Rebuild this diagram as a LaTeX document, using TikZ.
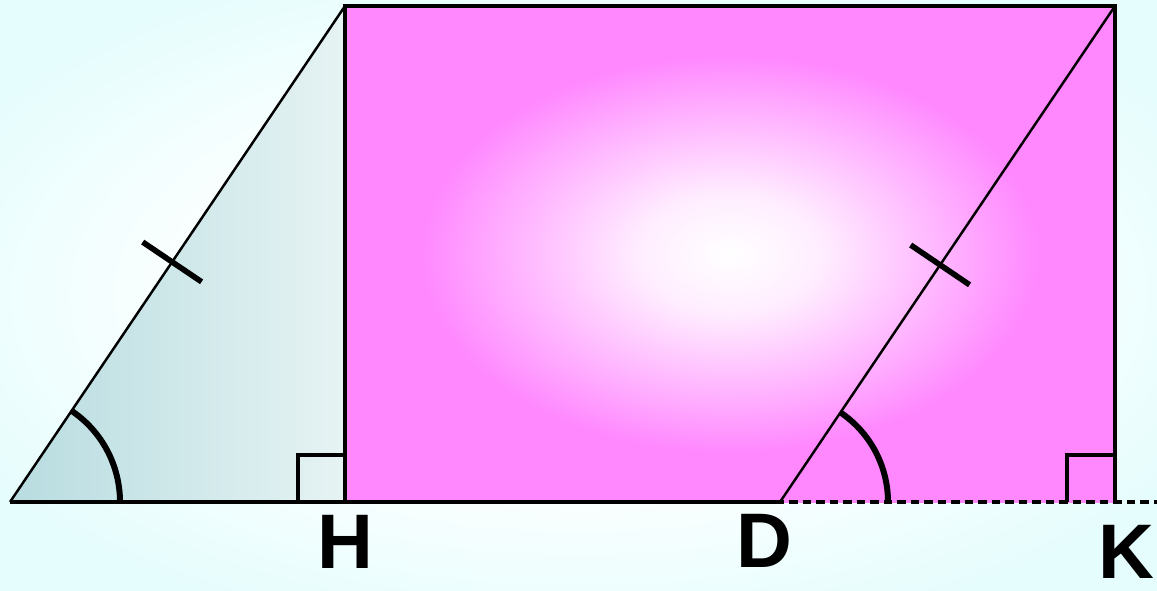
\documentclass[tikz,border=0pt]{standalone}
\usepackage{fontspec}
\setmainfont{Liberation Sans}
\usetikzlibrary{calc}
\definecolor{bgcyan}{HTML}{E6FDFD}
\definecolor{tealdark}{HTML}{B8DCE0}
\definecolor{tealpale}{HTML}{E6F3F3}
\definecolor{pinkfill}{HTML}{FF88FF}
\pgfdeclareradialshading{canvasglow}{\pgfpoint{0bp}{0bp}}{color(0bp)=(white); color(14bp)=(white); color(30bp)=(bgcyan); color(50bp)=(bgcyan)}
\pgfdeclareradialshading{pinkglow}{\pgfpoint{0bp}{0bp}}{color(0bp)=(white); color(6bp)=(white!85!pinkfill); color(20bp)=(pinkfill); color(50bp)=(pinkfill)}

\begin{document}
\begin{tikzpicture}[x=0.01cm, y=0.01cm,
    edge/.style={line width=1.05pt, line join=miter},
    slant/.style={line width=0.7pt},
    anglemark/.style={line width=1.7pt},
    tick/.style={line width=1.6pt},
    lbl/.style={font=\fontsize{22}{24}\selectfont\bfseries, inner sep=0pt},
]
% --- Canvas ---
\useasboundingbox (0,0) rectangle (1157,590);
\shade[shading=canvasglow] (0,0) rectangle (1157,590);

% --- Points ---
\coordinate (A) at (10,88);
\coordinate (B) at (345,584);
\coordinate (C) at (1115,584);
\coordinate (H) at (345,88);
\coordinate (D) at (780,88);
\coordinate (K) at (1115,88);
\coordinate (Dstart) at (762,88);
\coordinate (Eend) at (1157,88);

% --- Fills ---
\shade[left color=tealdark, right color=tealpale] (A) -- (B) -- (H) -- cycle;
\shade[shading=pinkglow] (H) rectangle (C);

% --- Outlines ---
\draw[edge] (A) -- (D);
\draw[edge] (H) -- (B) -- (C) -- (K);
\draw[slant] (A) -- (B);
\draw[slant] (D) -- (C);
\draw[edge, line width=1.2pt, dash pattern=on 0.085cm off 0.05cm] (Dstart) -- (Eend);

% --- Right angles ---
\draw[edge] ($(H)+(-47,0)$) |- ($(H)+(0,47)$);
\draw[edge] ($(K)+(-48,0)$) |- ($(K)+(0,47)$);

% --- Equal angles ---
\draw[anglemark] ($(A)+(110,0)$) arc[start angle=0, end angle=56, radius=1.1cm];
\draw[anglemark] ($(D)+(108,0)$) arc[start angle=0, end angle=56, radius=1.08cm];

% --- Equal sides ---
\coordinate (M1) at ($(A)!0.484!(B)$);
\coordinate (M2) at ($(D)!0.478!(C)$);
\draw[tick] ($(M1)!0.355cm!90:(B)$) -- ($(M1)!0.355cm!-90:(B)$);
\draw[tick] ($(M2)!0.355cm!90:(C)$) -- ($(M2)!0.355cm!-90:(C)$);

% --- Labels ---
\node[lbl] (labH) at (345,48) {H};
\node[lbl] (labD) at (764,49) {D};
\node[lbl] (labK) at (1126,38) {K};
\end{tikzpicture}
\end{document}
